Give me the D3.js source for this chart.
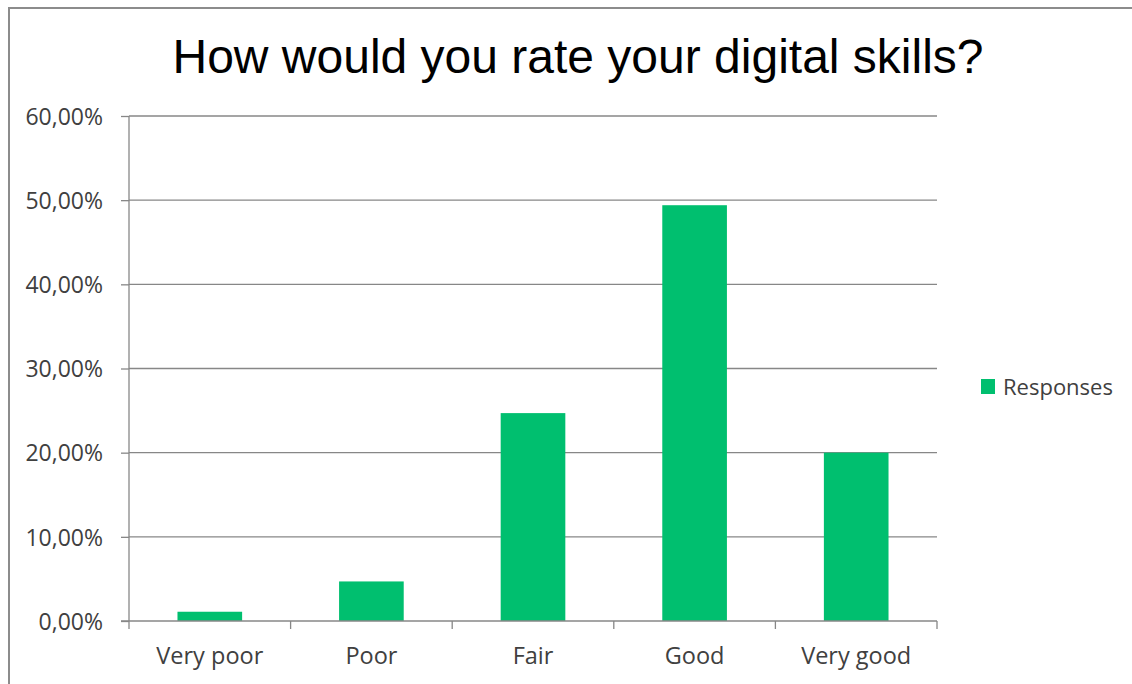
<!DOCTYPE html>
<html><head><meta charset="utf-8">
<script src="https://cdn.jsdelivr.net/npm/d3@7"></script>
<style>body{margin:0;background:#fff;}svg{display:block;}</style>
</head><body>
<script>
const categories = ["Very poor","Poor","Fair","Good","Very good"];
const values = [0.011, 0.047, 0.247, 0.494, 0.200];
const yTicks = [0,0.1,0.2,0.3,0.4,0.5,0.6];
const seriesName = "Responses";
const title = "How would you rate your digital skills?";

const W=1132,H=684;
const svg=d3.select("body").append("svg").attr("width",W).attr("height",H);
svg.append("rect").attr("x",9).attr("y",8).attr("width",W+10).attr("height",H+10)
  .attr("fill","#fff").attr("stroke","#8c8c8c").attr("stroke-width",2);

const x=d3.scaleBand().domain(categories).range([129,937]).paddingInner(0.6).paddingOuter(0.3);
const y=d3.scaleLinear().domain([0,0.6]).range([621,116]);
const fmt=v=>d3.format(".2f")(v*100).replace(".",",")+"%";
const font="'Open Sans', 'Noto Sans', sans-serif";

// gridlines
svg.append("g").selectAll("line").data(yTicks.slice(1)).join("line")
  .attr("x1",129).attr("x2",937).attr("y1",d=>y(d)).attr("y2",d=>y(d))
  .attr("stroke","#878787").attr("stroke-width",1.3);

// bars
svg.append("g").selectAll("rect").data(values).join("rect")
  .attr("x",(d,i)=>x(categories[i])).attr("width",x.bandwidth())
  .attr("y",d=>y(d)).attr("height",d=>y(0)-y(d)).attr("fill","#00BF6F");

// y axis
const ya=svg.append("g").attr("transform","translate(129,0)")
  .call(d3.axisLeft(y).tickValues(yTicks).tickFormat(fmt).tickSize(8).tickPadding(18));
ya.attr("font-size",null).attr("font-family",null);
ya.select(".domain").attr("stroke","#878787").attr("stroke-width",1.3).attr("d","M0,116V621");
ya.selectAll(".tick line").attr("stroke","#878787").attr("stroke-width",1.3);
ya.selectAll("text").attr("font-family",font).attr("font-size",23).attr("fill","#404040").attr("dy","0.36em");

// x axis
const xb=d3.scalePoint().domain(d3.range(categories.length+1)).range([129,937]);
const xa=svg.append("g").attr("transform","translate(0,621)");
xa.append("line").attr("x1",121).attr("x2",937).attr("stroke","#878787").attr("stroke-width",1.3);
xa.selectAll(".t").data(d3.range(categories.length+1)).join("line").attr("class","t")
  .attr("x1",d=>xb(d)).attr("x2",d=>xb(d)).attr("y1",0).attr("y2",8)
  .attr("stroke","#878787").attr("stroke-width",1.3);
xa.selectAll("text").data(categories).join("text")
  .attr("x",d=>x(d)+x.bandwidth()/2).attr("y",43).attr("text-anchor","middle")
  .attr("font-family",font).attr("font-size",23.5).attr("fill","#404040").text(d=>d);

// title
svg.append("text").attr("x",578).attr("y",73).attr("text-anchor","middle")
  .attr("font-family","'Liberation Sans', Arial, sans-serif").attr("font-size",48)
  .attr("fill","#000").text(title);

// legend
svg.append("rect").attr("x",981).attr("y",379).attr("width",14).attr("height",15).attr("fill","#00BF6F");
svg.append("text").attr("x",1003).attr("y",395).attr("font-family",font).attr("font-size",22)
  .attr("fill","#404040").text(seriesName);
</script>
</body></html>
